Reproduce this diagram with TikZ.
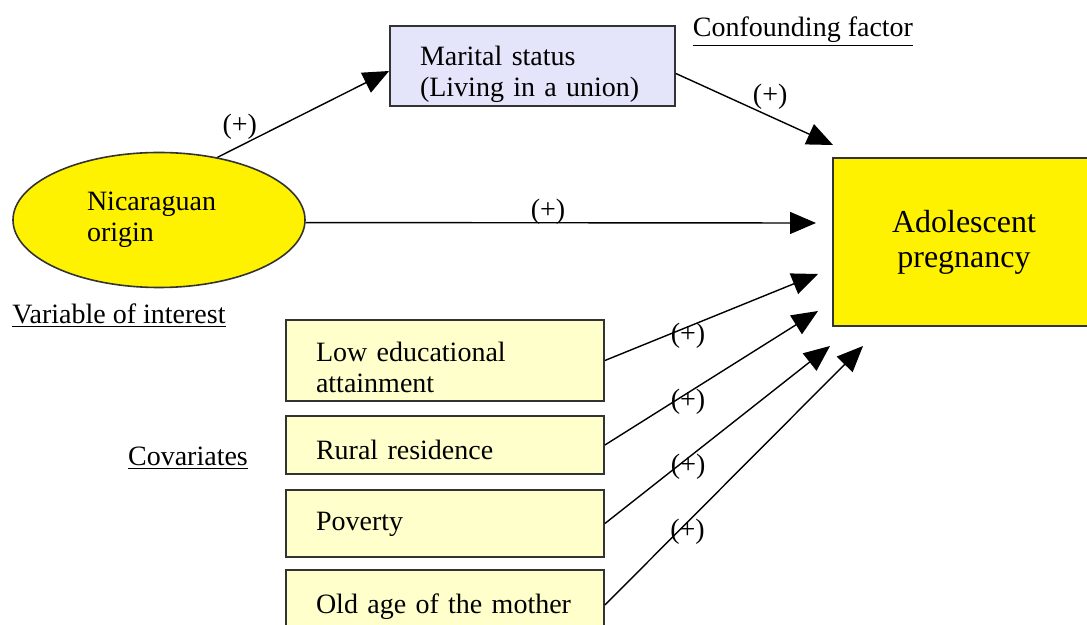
\documentclass[tikz,border=0pt]{standalone}
\usepackage{fontspec}
\setmainfont{Liberation Serif}
\usetikzlibrary{arrows.meta,shapes.geometric}
\definecolor{covfill}{RGB}{255,255,204}
\definecolor{unionfill}{RGB}{228,228,250}

\begin{document}
\begin{tikzpicture}[x=0.5pt,y=-0.5pt,->,>={Triangle[length=13pt,width=11pt]},
                    line width=0.7pt,font=\fontsize{14}{15.5}\selectfont]
  \tikzstyle{box}=[rectangle,draw=black!80,line width=0.9pt]
  \tikzstyle{factor}=[box,fill=covfill,minimum width=159pt,
                      text width=129pt,inner xsep=0pt,inner ysep=0pt,align=left]
  \tikzstyle{sign}=[inner sep=1pt]

  \clip (0,0) rectangle (1087,625);

  \node[ellipse,draw=black!80,line width=0.8pt,fill=yellow,minimum width=146pt,
        minimum height=67.5pt,text width=72pt,align=left] (origin) at (159,220)
        {Nicaraguan\\origin};
  \node[box,fill=unionfill,minimum width=142.5pt,minimum height=40pt,
        text width=112.5pt,inner xsep=0pt,inner ysep=0pt,text height=16pt,text depth=16pt,
        align=left] (union) at (532.5,66)
        {Marital status\\(Living in a union)};
  \node[box,fill=yellow,minimum width=131pt,minimum height=84pt,
        align=center,font=\fontsize{16}{17.5}\selectfont] (preg) at (964,242)
        {Adolescent\\pregnancy};

  \node[factor,minimum height=40.5pt,text height=16.5pt,text depth=15.3pt] (edu) at (445,360.5)
        {Low educational\\attainment};
  \node[factor,minimum height=29pt,text height=17pt,text depth=3pt] (rural)
        [below of=edu,node distance=42.25pt] {Rural residence};
  \node[factor,minimum height=33.5pt,text height=12pt,text depth=4.6pt] (poor)
        [below of=rural,node distance=39.25pt] {Poverty};
  \node[factor,minimum height=35pt,text height=12pt,text depth=3.7pt] (age)
        [below of=poor,node distance=40.75pt] {Old age of the mother};

  \node (conf) at (803,32) {\underline{Confounding factor}};
  \node (interest) at (119,316) {\underline{Variable of interest}};
  \node (covar) at (188,458) {\underline{Covariates}};

  % free ends of the arrows near the outcome box
  \coordinate (t0) at (833,145);
  \coordinate (t1) at (816,223);
  \coordinate (t2) at (818,274);
  \coordinate (t3) at (818,311);
  \coordinate (t4) at (830,346);
  \coordinate (t5) at (863,346);

  \path (origin.47) edge node[sign,pos=.13,above=2pt] {(+)} (union.182)
        (union.-3)  edge node[sign,pos=.6,above=2pt] {(+)} (t0)
        (origin.-1) edge node[sign,pos=.475,yshift=5.5pt] {(+)} (t1)
        (edu.east)   edge node[sign,pos=.39,yshift=-4.5pt] {(+)} (t2)
        (rural.east) edge node[sign,pos=.39,yshift=-4.5pt] {(+)} (t3)
        (poor.east)  edge node[sign,pos=.37,yshift=-4.5pt] {(+)} (t4)
        (age.east)   edge node[sign,pos=.32,yshift=-5pt] {(+)} (t5);
\end{tikzpicture}
\end{document}
